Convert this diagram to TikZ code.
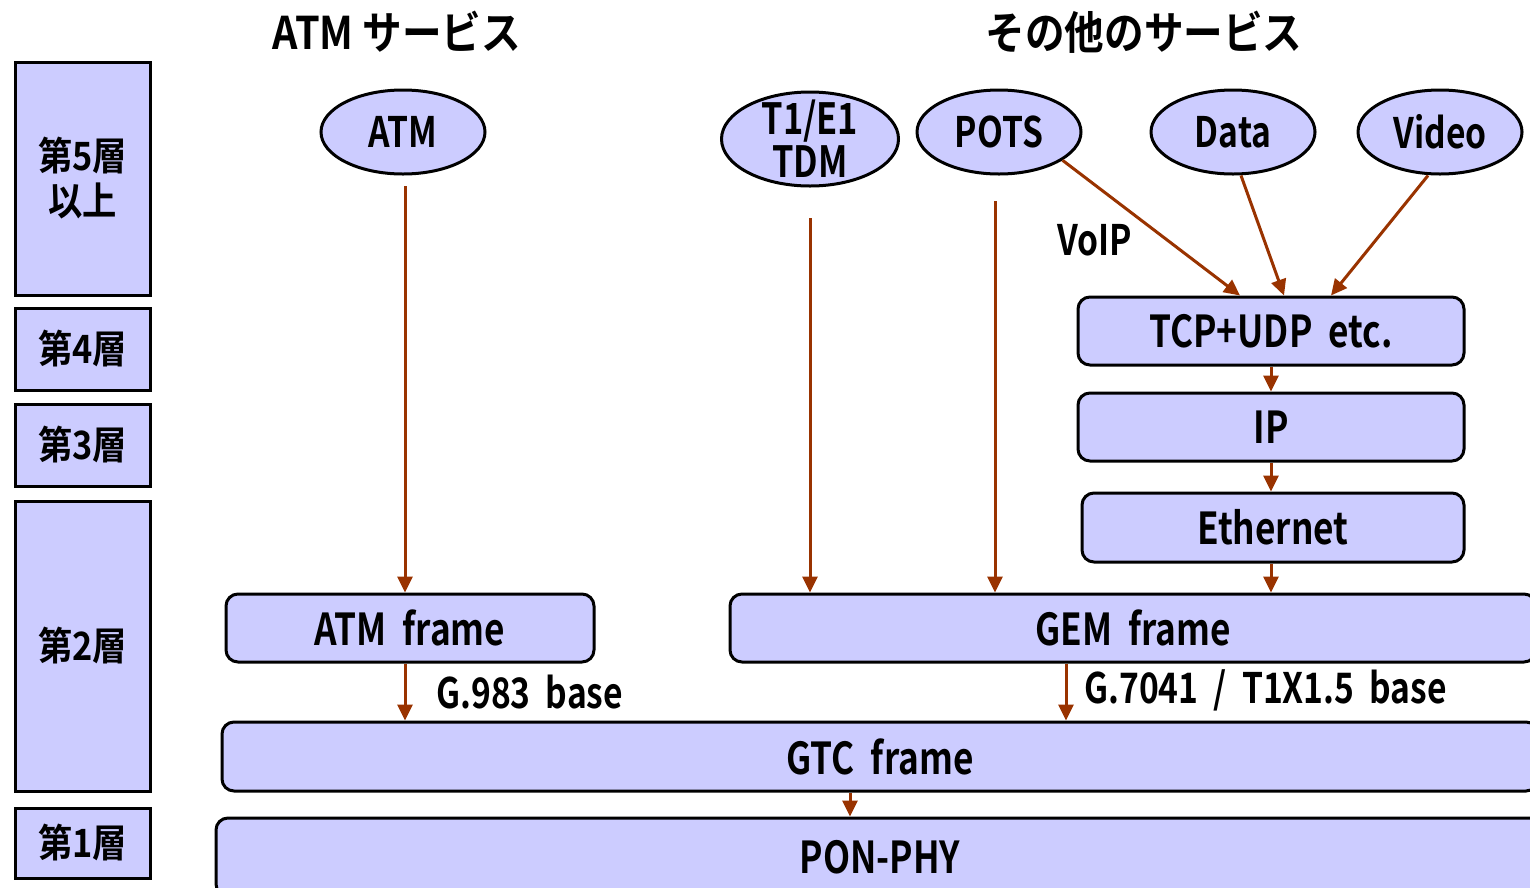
\documentclass[tikz,border=0pt]{standalone}
\usepackage{fontspec}
\setmainfont{Noto Sans CJK JP Bold}[FakeStretch=0.8,WordSpace=2]
\newfontfamily\jpwide{Noto Sans CJK JP Bold}[FakeStretch=0.88]
\usetikzlibrary{shapes.geometric,arrows.meta}
\definecolor{lav}{HTML}{CCCCFF}
\definecolor{brn}{HTML}{993300}

\begin{document}
\begin{tikzpicture}[x=1pt,y=-1pt,
  layer/.style={draw,line width=3pt,fill=lav,inner sep=0pt,align=center,
                font=\jpwide\fontsize{39}{45}\selectfont},
  proto/.style={draw,line width=3pt,fill=lav,inner sep=0pt,rounded corners=12pt,
                font=\fontsize{44}{44}\selectfont},
  svc/.style={ellipse,draw,line width=3pt,fill=lav,inner sep=0pt,align=center,
              minimum width=164pt,minimum height=84pt,font=\fontsize{42}{43}\selectfont},
  lbl/.style={font=\fontsize{42}{42}\selectfont,inner sep=0pt},
  arr/.style={brn,line width=3pt,-{Triangle[length=16pt,width=15pt]}}]

\clip (0,0) rectangle (1530,887);

% layer column
\node[layer,minimum width=135pt,minimum height=233pt] (l5) at (82.5,178.5) {第5層\\以上};
\node[layer,minimum width=135pt,minimum height=82pt] (l4) at (82.5,349) {第4層};
\node[layer,minimum width=135pt,minimum height=82pt] (l3) at (82.5,445) {第3層};
\node[layer,minimum width=135pt,minimum height=290pt] (l2) at (82.5,646) {第2層};
\node[layer,minimum width=135pt,minimum height=70pt] (l1) at (82.5,843) {第1層};

% headings
\node[lbl,font=\jpwide\fontsize{45}{45}\selectfont] (hatm) at (397,32) {ATM サービス};
\node[lbl,font=\jpwide\fontsize{45}{45}\selectfont] (hother) at (1144,32) {その他のサービス};

% services
\node[svc] (atm) at (403,132) {ATM};
\node[svc,minimum width=177pt,minimum height=94pt,inner ysep=-10pt,
      font=\fontsize{43}{43}\selectfont] (tdm) at (810,139) {T1/E1\\TDM};
\node[svc] (pots) at (999,132) {POTS};
\node[svc] (data) at (1233,132) {Data};
\node[svc] (video) at (1440,132) {Video};

% protocol boxes
\node[proto,minimum width=386pt,minimum height=68pt] (tcp) at (1271,331) {TCP+UDP etc.};
\node[proto,minimum width=386pt,minimum height=68pt] (ip) at (1271,427) {IP};
\node[proto,minimum width=382pt,minimum height=69pt] (eth) at (1273,527.5) {Ethernet};
\node[proto,minimum width=368pt,minimum height=68pt] (atmf) at (410,628) {ATM frame};
\node[proto,minimum width=806pt,minimum height=68pt] (gem) at (1133,628) {GEM frame};
\node[proto,minimum width=1316pt,minimum height=69pt] (gtc) at (880,756.5) {GTC frame};
\node[proto,minimum width=1328pt,minimum height=78pt] (pon) at (880,857) {PON-PHY};

\node[lbl] (voip) at (1095,240) {VoIP};
\node[lbl,anchor=west] (g983) at (436,692) {G.983 base};
\node[lbl,anchor=west] (g7041) at (1084,690) {G.7041 / T1X1.5 base};

% arrows
\coordinate (atmtop) at (405,186);
\coordinate (tdmtop) at (810,218);
\coordinate (potstop) at (995,201);
\draw[arr] (atmtop) -- (atmtop |- atmf.north);
\draw[arr] (tdmtop) -- (tdmtop |- gem.north);
\draw[arr] (potstop) -- (potstop |- gem.north);
\draw[arr] (pots.-24) -- ([xshift=-31pt]tcp.north);
\draw[arr] ([xshift=8pt]data.south) -- ([xshift=13pt]tcp.north);
\draw[arr] ([xshift=-12pt]video.south) -- ([xshift=60pt]tcp.north);
\draw[arr] (tcp.south) -- (tcp.south |- ip.north);
\draw[arr] (ip.south) -- (ip.south |- eth.north);
\draw[arr] (ip.south |- eth.south) -- (ip.south |- gem.north);
\draw[arr] (atmtop |- atmf.south) -- (atmtop |- gtc.north);
\coordinate (gemout) at ([xshift=-67pt]gem.south);
\draw[arr] (gemout) -- (gemout |- gtc.north);
\coordinate (gtcout) at ([xshift=-30pt]gtc.south);
\draw[arr] (gtcout) -- (gtcout |- pon.north);
\end{tikzpicture}
\end{document}
